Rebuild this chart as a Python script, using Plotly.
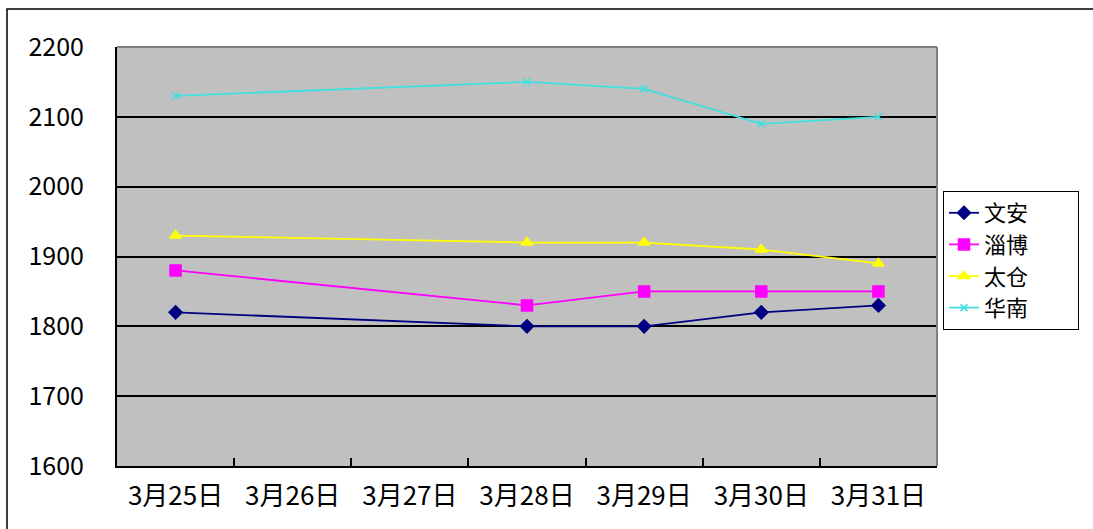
import plotly.graph_objects as go

categories = ["3月25日", "3月26日", "3月27日", "3月28日", "3月29日", "3月30日", "3月31日"]
wenan = [1820, None, None, 1800, 1800, 1820, 1830]
zibo = [1880, None, None, 1830, 1850, 1850, 1850]
taicang = [1930, None, None, 1920, 1920, 1910, 1890]
huanan = [2130, None, None, 2150, 2140, 2090, 2100]
y_ticks = [1600, 1700, 1800, 1900, 2000, 2100, 2200]

series = [
    ("文安", wenan, "#000080", "diamond", 10),
    ("淄博", zibo, "#FF00FF", "square", 11),
    ("太仓", taicang, "#FFFF00", "triangle-up", 10),
    ("华南", huanan, "#40E0E0", "x-thin", 7),
]

fig = go.Figure()
for name, vals, color, sym, size in series:
    fig.add_trace(go.Scatter(
        x=categories, y=vals, name=name + "\u3000\u3000", mode="lines+markers",
        connectgaps=True,
        line=dict(color=color, width=1.8),
        marker=dict(symbol=sym, size=size, color=color,
                    line=dict(color=color, width=1.5)),
    ))

W, H = 1093, 529
L, R, T, B = 117, 937, 47, 466
pw, ph = R - L, B - T

def px(x):
    return (x - L) / pw

def py(y):
    return (B - y) / ph

font_family = "Noto Sans CJK SC, DejaVu Sans, sans-serif"

fig.update_layout(
    width=W, height=H,
    margin=dict(l=L, r=W - R, t=T, b=H - B, pad=0),
    paper_bgcolor="white",
    plot_bgcolor="#C0C0C0",
    font=dict(family=font_family, size=20, color="black"),
    showlegend=True,
    legend=dict(
        x=px(943), y=py(191), xanchor="left", yanchor="top",
        bgcolor="white", bordercolor="black", borderwidth=1,
        font=dict(size=22, family=font_family, color="black"),
        tracegroupgap=0, itemwidth=30,
    ),
    xaxis=dict(
        type="category", categoryorder="array", categoryarray=categories,
        range=[-0.5, 6.5], showgrid=False, zeroline=False,
        showline=True, linecolor="black", linewidth=2,
        ticks="inside", tickson="boundaries", ticklen=8, tickwidth=1.5,
        tickcolor="black", ticklabelstandoff=6,
        tickfont=dict(size=26, family=font_family),
    ),
    yaxis=dict(
        range=[1600, 2200], tickvals=y_ticks,
        showgrid=True, gridcolor="black", gridwidth=1.5, zeroline=False,
        showline=True, linecolor="black", linewidth=2,
        ticks="inside", ticklen=8, tickwidth=1.5, tickcolor="black",
        ticklabelstandoff=26,
        tickfont=dict(size=25, family=font_family),
    ),
    shapes=[
        dict(type="line", xref="paper", yref="paper", x0=0, x1=1, y0=1, y1=1,
             line=dict(color="#808080", width=2), layer="above"),
        dict(type="line", xref="paper", yref="paper", x0=1, x1=1, y0=0, y1=1,
             line=dict(color="#808080", width=2), layer="above"),
        dict(type="rect", xref="paper", yref="paper",
             x0=px(7), x1=px(1110), y0=py(545), y1=py(9),
             line=dict(color="black", width=1.5), fillcolor="rgba(0,0,0,0)",
             layer="below"),
    ],
)

fig.write_html("out.html")
